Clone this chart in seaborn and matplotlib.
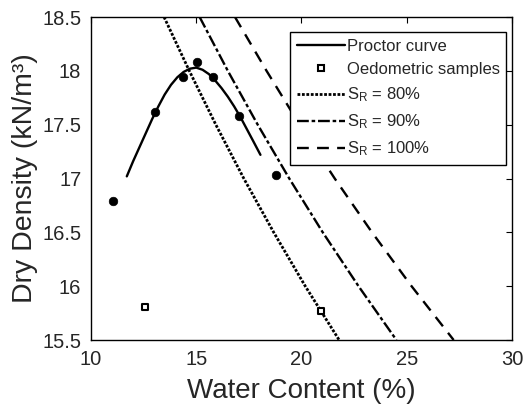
import matplotlib
matplotlib.use("Agg")
import matplotlib.pyplot as plt
from matplotlib.lines import Line2D
import seaborn as sns
import pandas as pd

# Compaction test results: water content (%) and dry density (kN/m3)
proctor_w = [11.05, 13.05, 14.37, 15.04, 15.79, 17.04, 18.8]
proctor_gd = [16.79, 17.62, 17.94, 18.08, 17.94, 17.58, 17.03]

# Fitted Proctor curve
curve_w = [11.70, 12.00, 12.30, 12.60, 12.90, 13.20, 13.50, 13.80, 14.10,
           14.40, 14.70, 15.00, 15.30, 15.60, 15.90, 16.20, 16.50, 16.80,
           17.10, 17.40, 17.70, 18.05]
curve_gd = [17.02, 17.16, 17.29, 17.42, 17.55, 17.67, 17.78, 17.87, 17.94,
            17.99, 18.02, 18.03, 18.01, 17.97, 17.91, 17.84, 17.76, 17.67,
            17.57, 17.46, 17.35, 17.22]

# Oedometric samples
oedo_w = [12.55, 20.93]
oedo_gd = [15.81, 15.77]

# Saturation lines (water content at each dry density)
sat_gd = [18.5, 18.0, 17.5, 17.0, 16.5, 16.0, 15.5]
sat80_w = [13.47, 14.67, 15.93, 17.26, 18.68, 20.18, 21.79]
sat90_w = [15.16, 16.50, 17.92, 19.42, 21.01, 22.71, 24.51]
sat100_w = [16.84, 18.34, 19.91, 21.58, 23.35, 25.23, 27.23]

x_ticks = [10, 15, 20, 25, 30]
y_ticks = [15.5, 16, 16.5, 17, 17.5, 18, 18.5]
y_tick_labels = ["15.5", "16", "16.5", "17", "17.5", "18", "18.5"]

sns.set_style("white")
plt.rcParams["font.family"] = ["Liberation Sans", "DejaVu Sans"]
plt.rcParams["mathtext.fontset"] = "custom"
plt.rcParams["mathtext.rm"] = "Liberation Sans"
plt.rcParams["mathtext.it"] = "Liberation Sans:italic"

txt = "#262626"

fig = plt.figure(figsize=(5.24, 4.07), dpi=100)
ax = fig.add_axes([0.1737, 0.1646, 0.8033, 0.7936])

sat_styles = [
    (sat80_w, (0, (1, 0.6)), 2.0, "S$_\\mathrm{R}$ = 80%"),
    (sat90_w, (0, (5, 1.2, 1.5, 1.2)), 1.7, "S$_\\mathrm{R}$ = 90%"),
    (sat100_w, (0, (5, 3.5)), 1.7, "S$_\\mathrm{R}$ = 100%"),
]
for w, ls, lw, lab in sat_styles:
    df = pd.DataFrame({"w": w, "gd": sat_gd})
    sns.lineplot(data=df, x="w", y="gd", ax=ax, color="black", linewidth=lw,
                 linestyle=ls, sort=False, estimator=None, zorder=2)

curve_df = pd.DataFrame({"w": curve_w, "gd": curve_gd})
sns.lineplot(data=curve_df, x="w", y="gd", ax=ax, color="black", linewidth=1.7,
             sort=False, estimator=None, zorder=3)

pts_df = pd.DataFrame({"w": proctor_w, "gd": proctor_gd})
sns.scatterplot(data=pts_df, x="w", y="gd", ax=ax, color="black", s=38,
                marker="o", edgecolor="black", zorder=4)

oedo_df = pd.DataFrame({"w": oedo_w, "gd": oedo_gd})
sns.scatterplot(data=oedo_df, x="w", y="gd", ax=ax, marker="s", s=22,
                facecolor="white", edgecolor="black", linewidth=1.5, zorder=4)

ax.set_xlim(10, 30)
ax.set_ylim(15.5, 18.5)
ax.set_xticks(x_ticks)
ax.set_xticklabels([str(t) for t in x_ticks])
ax.set_yticks(y_ticks)
ax.set_yticklabels(y_tick_labels)
ax.tick_params(direction="in", length=4, width=0.8, top=True, right=True,
               labelsize=14.5, colors="black")
ax.tick_params(axis="x", pad=7)
ax.tick_params(axis="y", pad=7)
for lbl in ax.get_xticklabels() + ax.get_yticklabels():
    lbl.set_color(txt)
for sp in ax.spines.values():
    sp.set_visible(True)
    sp.set_color("black")
    sp.set_linewidth(1.0)

ax.set_xlabel("Water Content (%)", fontsize=20, color=txt, labelpad=7)
ax.set_ylabel("Dry Density (kN/m³)", fontsize=20.5, color=txt, labelpad=3)

handles = [
    Line2D([], [], color="black", linewidth=1.7),
    Line2D([], [], color="black", linestyle="none", marker="s", markersize=4.5,
           markerfacecolor="white", markeredgewidth=1.5),
]
labels = ["Proctor curve", "Oedometric samples"]
for w, ls, lw, lab in sat_styles:
    handles.append(Line2D([], [], color="black", linewidth=lw, linestyle=ls))
    labels.append(lab)

leg = ax.legend(handles, labels, loc="upper right", bbox_to_anchor=(0.987, 0.953),
                fontsize=12, frameon=True, fancybox=False, framealpha=1,
                edgecolor="black", handlelength=2.9, handletextpad=0.1,
                borderpad=0.4, labelspacing=0.5, borderaxespad=0)
leg.get_frame().set_linewidth(1.0)
leg.set_zorder(10)
for t in leg.get_texts():
    t.set_color(txt)

fig.savefig("out.png", dpi=100)
